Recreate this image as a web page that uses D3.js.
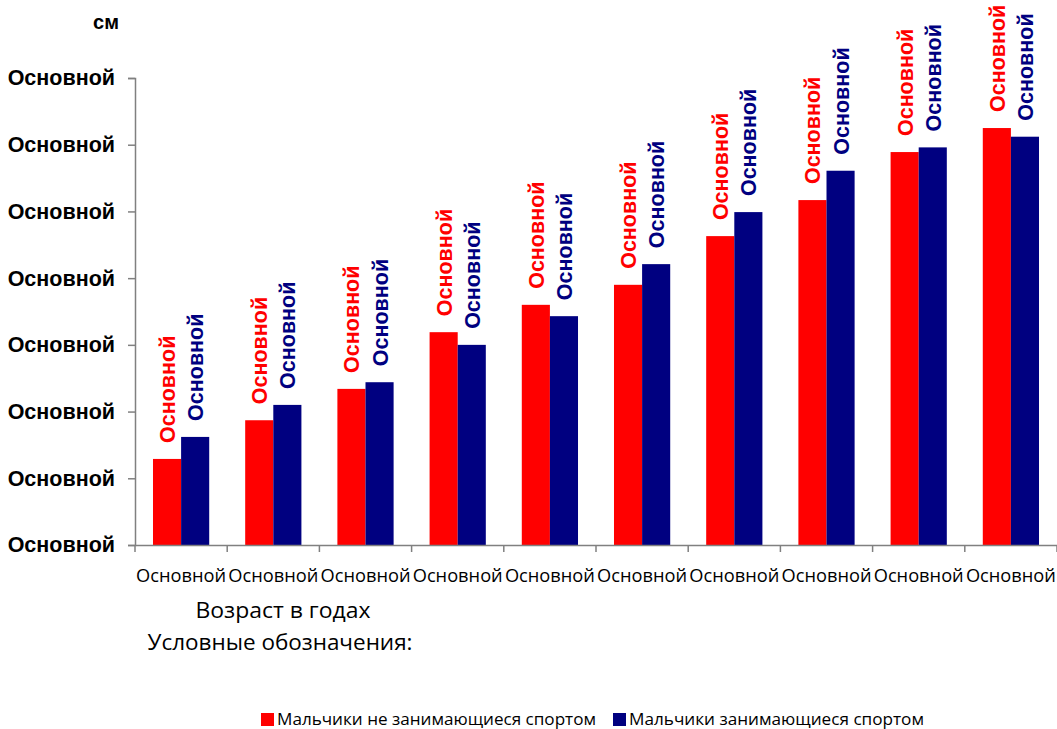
<!DOCTYPE html>
<html>
<head>
<meta charset="utf-8">
<script src="https://cdn.jsdelivr.net/npm/d3@7"></script>
<style>
  body { margin: 0; background: #fff; }
  svg { display: block; }
</style>
</head>
<body>
<div id="chart"></div>
<script>
// Data (one y tick = 1 unit)
var categories = ["Основной", "Основной", "Основной", "Основной", "Основной",
                  "Основной", "Основной", "Основной", "Основной", "Основной"];
var seriesNames = ["Мальчики не занимающиеся спортом", "Мальчики занимающиеся спортом"];
var notSport = [1.29, 1.87, 2.34, 3.19, 3.6, 3.9, 4.63, 5.17, 5.89, 6.25];
var sport    = [1.62, 2.1, 2.44, 3.0, 3.43, 4.21, 4.99, 5.61, 5.96, 6.12];
var barLabels = ["Основной", "Основной"];
var yTicks = [0, 1, 2, 3, 4, 5, 6, 7];
var yTickLabels = ["Основной", "Основной", "Основной", "Основной",
                   "Основной", "Основной", "Основной", "Основной"];
var colors = ["#ff0000", "#000080"];

var W = 1057, H = 729;
var margin = {top: 78, right: 0, bottom: 184, left: 135},
    width = W - margin.left - margin.right,
    height = H - margin.top - margin.bottom;

var svg = d3.select("#chart").append("svg")
    .attr("width", W)
    .attr("height", H);

var g = svg.append("g")
    .attr("transform", "translate(" + margin.left + "," + margin.top + ")");

var x0 = d3.scaleBand()
    .domain(d3.range(categories.length))
    .range([0, width])
    .paddingInner(0)
    .paddingOuter(0);

var x1 = d3.scaleBand()
    .domain([0, 1])
    .range([0, x0.bandwidth()])
    .paddingInner(0)
    .paddingOuter(0.64);

var y = d3.scaleLinear()
    .domain([0, 7])
    .range([height, 0]);

var rows = categories.map(function(c, i) {
  return {i: i, values: [notSport[i], sport[i]]};
});

// bars
var groups = g.selectAll(".grp")
    .data(rows)
  .enter().append("g")
    .attr("class", "grp")
    .attr("transform", function(d) { return "translate(" + x0(d.i) + ",0)"; });

groups.selectAll("rect")
    .data(function(d) { return d.values; })
  .enter().append("rect")
    .attr("x", function(d, k) { return x1(k); })
    .attr("width", x1.bandwidth())
    .attr("y", function(d) { return y(d); })
    .attr("height", function(d) { return height - y(d); })
    .attr("fill", function(d, k) { return colors[k]; });

// rotated value labels above the bars
groups.selectAll("text.lbl")
    .data(function(d) { return d.values; })
  .enter().append("text")
    .attr("class", "lbl")
    .attr("transform", function(d, k) {
      return "translate(" + (x1(k) + x1.bandwidth() / 2 + 8) + "," + (y(d) - 16) + ") rotate(-90)";
    })
    .style("font-family", "'Liberation Sans', Arial, sans-serif")
    .style("font-weight", "bold")
    .style("font-size", "21.5px")
    .attr("fill", function(d, k) { return colors[k]; })
    .text(function(d, k) { return barLabels[k]; });

// y axis
var yAxis = g.append("g")
    .call(d3.axisLeft(y)
      .tickValues(yTicks)
      .tickSize(7)
      .tickPadding(13)
      .tickFormat(function(d, i) { return yTickLabels[i]; }));
yAxis.select(".domain").attr("stroke", "#808080").attr("stroke-width", 1.5);
yAxis.selectAll(".tick line").attr("stroke", "#808080").attr("stroke-width", 1.5);
yAxis.selectAll("text")
    .style("font-family", "'Liberation Sans', Arial, sans-serif")
    .style("font-weight", "bold")
    .style("font-size", "21.5px")
    .attr("fill", "#000");

// x axis
var xAxis = g.append("g")
    .attr("transform", "translate(0," + height + ")")
    .call(d3.axisBottom(x0).tickSize(0).tickPadding(24)
      .tickFormat(function(d) { return categories[d]; }));
xAxis.select(".domain").attr("stroke", "#808080").attr("stroke-width", 1.5);
xAxis.selectAll("text")
    .style("font-family", "'Open Sans', 'Noto Sans', sans-serif")
    .style("font-size", "18.5px")
    .attr("textLength", 90)
    .attr("lengthAdjust", "spacingAndGlyphs")
    .attr("fill", "#000");

// category boundary ticks
xAxis.selectAll(".sep")
    .data(d3.range(categories.length + 1))
  .enter().append("line")
    .attr("class", "sep")
    .attr("x1", function(d) { return d * x0.step(); })
    .attr("x2", function(d) { return d * x0.step(); })
    .attr("y1", 0)
    .attr("y2", 7)
    .attr("stroke", "#808080")
    .attr("stroke-width", 1.5);

// unit label
svg.append("text")
    .attr("x", 106)
    .attr("y", 29)
    .attr("text-anchor", "middle")
    .style("font-family", "'Liberation Sans', Arial, sans-serif")
    .style("font-weight", "bold")
    .style("font-size", "20px")
    .text("см");

// axis title and legend caption
svg.append("text")
    .attr("x", 283)
    .attr("y", 618)
    .attr("text-anchor", "middle")
    .style("font-family", "'Open Sans', 'Noto Sans', sans-serif")
    .style("font-size", "21px")
    .attr("textLength", 175)
    .attr("lengthAdjust", "spacingAndGlyphs")
    .text("Возраст в годах");

svg.append("text")
    .attr("x", 280)
    .attr("y", 650)
    .attr("text-anchor", "middle")
    .style("font-family", "'Open Sans', 'Noto Sans', sans-serif")
    .style("font-size", "21px")
    .attr("textLength", 265)
    .attr("lengthAdjust", "spacingAndGlyphs")
    .text("Условные обозначения:");

// legend
var legendX = [261, 613];
var legendW = [319, 295];
var legend = svg.selectAll(".leg")
    .data(seriesNames)
  .enter().append("g")
    .attr("class", "leg")
    .attr("transform", function(d, i) { return "translate(" + legendX[i] + ",713)"; });

legend.append("rect")
    .attr("width", 13)
    .attr("height", 13)
    .attr("fill", function(d, i) { return colors[i]; });

legend.append("text")
    .attr("x", 16)
    .attr("y", 12)
    .style("font-family", "'Open Sans', 'Noto Sans', sans-serif")
    .style("font-size", "17px")
    .attr("textLength", function(d, i) { return legendW[i]; })
    .attr("lengthAdjust", "spacingAndGlyphs")
    .text(function(d) { return d; });
</script>
</body>
</html>
